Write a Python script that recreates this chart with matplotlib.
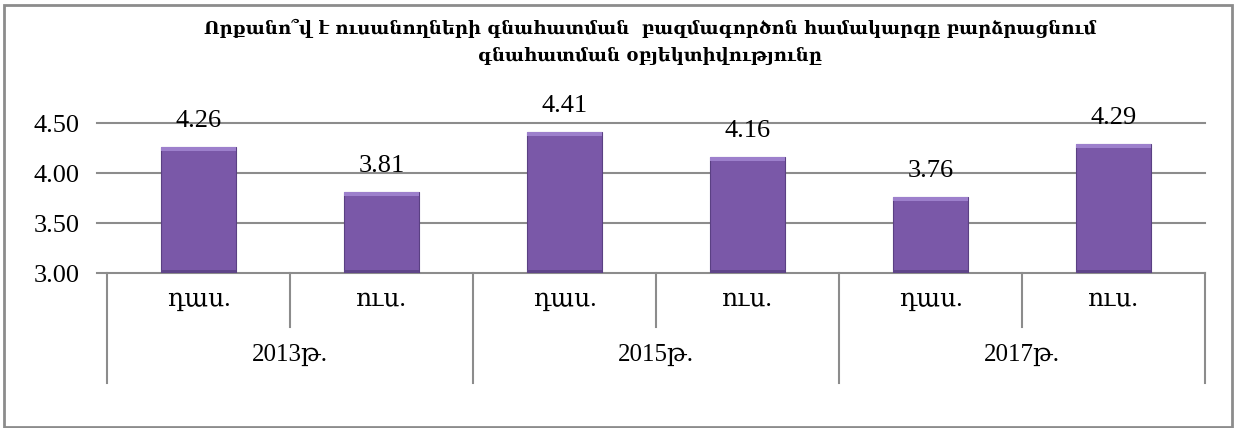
import matplotlib
matplotlib.use("Agg")
import matplotlib.pyplot as plt
from matplotlib.patches import Rectangle
from matplotlib.lines import Line2D

plt.rcParams['font.family'] = ['Liberation Serif', 'DejaVu Serif']

title = "Որքանո՞վ է ուսանողների գնահատման  բազմագործոն համակարգը բարձրացնում\nգնահատման օբյեկտիվությունը"
years = ["2013թ.", "2015թ.", "2017թ."]
sub_labels = ["դաս.", "ուս.", "դաս.", "ուս.", "դաս.", "ուս."]
values = [4.26, 3.81, 4.41, 4.16, 3.76, 4.29]
yticks = [3.00, 3.50, 4.00, 4.50]

GRID = "#8c8c8c"
BAR = "#7a58a8"
BAR_TOP = "#9d80cc"
BAR_EDGE = "#5a4083"

fig = plt.figure(figsize=(12.34, 4.28), dpi=100)
W, H = 1234, 428
ax = fig.add_axes([107 / W, 1 - 273 / H, (1205 - 107) / W, (273 - 123) / H])

n = len(values)
x = list(range(n))
ax.set_xlim(-0.5, n - 0.5)
ax.set_ylim(3.0, 4.5)

bw = 0.405
base = 3.0
ax.bar(x, [v - base for v in values], bottom=base, width=bw, color=BAR,
       edgecolor=BAR_EDGE, linewidth=0.8, zorder=3)
bev = 0.035
ax.bar(x, [bev] * n, bottom=[v - bev for v in values], width=bw, color=BAR_TOP,
       linewidth=0, zorder=4)
ax.bar(x, [0.03] * n, bottom=base, width=bw, color="#5f4589", linewidth=0, zorder=4)

for xi, v in zip(x, values):
    ax.annotate(f"{v:.2f}", (xi, v), xytext=(0, 11), textcoords="offset points",
                ha="center", va="bottom", fontsize=19, zorder=5, annotation_clip=False)

ax.set_yticks(yticks)
ax.set_yticklabels([f"{t:.2f}" for t in yticks], fontsize=19)
ax.tick_params(axis='y', length=0, pad=20)
ytrans = ax.get_yaxis_transform()
for t in yticks:
    ax.add_line(Line2D([-10 / 1098, 1], [t, t], transform=ytrans, color=GRID,
                       linewidth=1.5, clip_on=False, zorder=1))
ax.set_xticks([])
for s in ["left", "right", "top", "bottom"]:
    ax.spines[s].set_visible(False)

trans = ax.get_xaxis_transform()
inner_bottom = -(327 - 273) / (273 - 123)
outer_bottom = -(383 - 273) / (273 - 123)
for i in range(n + 1):
    xb = i - 0.5
    is_group = (i % 2 == 0)
    yb = outer_bottom if is_group else inner_bottom
    ax.add_line(Line2D([xb, xb], [0, yb], transform=trans, color=GRID,
                       linewidth=1.5, clip_on=False))
for xi, lab in zip(x, sub_labels):
    ax.text(xi, -(300 - 273) / 150, lab, transform=trans, ha="center", va="center",
            fontsize=18)
for g, yl in enumerate(years):
    ax.text(2 * g + 0.5, -(355 - 273) / 150, yl, transform=trans, ha="center",
            va="center", fontsize=18)

fig.text(650 / W, 1 - 42 / H, title, ha="center", va="center", fontsize=13,
         fontweight="bold", linespacing=1.65, family=['DejaVu Serif'])

fig.patches.append(Rectangle((4 / W, 1 - 427 / H), (1232 - 4) / W, (427 - 5) / H,
                             transform=fig.transFigure, fill=False,
                             edgecolor=GRID, linewidth=2))

fig.savefig("out.png", dpi=100)
